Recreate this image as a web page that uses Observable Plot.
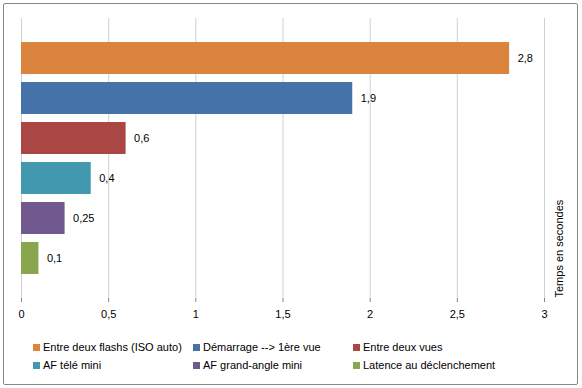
<!DOCTYPE html>
<html><head><meta charset="utf-8">
<script src="https://cdn.jsdelivr.net/npm/d3@7"></script>
<script src="https://cdn.jsdelivr.net/npm/@observablehq/plot@0.6"></script>
<style>
body{margin:0;background:#fff;font-family:"Liberation Sans",Arial,sans-serif;}
#wrap{position:relative;width:582px;height:388px;}
#border{position:absolute;left:3px;top:3px;width:573px;height:380px;border:1px solid #888;border-radius:2px;box-sizing:content-box;}
#chart{position:absolute;left:0;top:0;}
#legend{position:absolute;left:0;top:340px;width:582px;font-size:11px;color:#000;}
.item{position:absolute;white-space:nowrap;line-height:14px;}
.sw{display:inline-block;width:7px;height:7px;margin-right:3px;vertical-align:0px;}
</style></head>
<body><div id="wrap"><div id="border"></div><div id="chart"></div><div id="legend"></div></div>
<script>
const categories = ["Entre deux flashs (ISO auto)","Démarrage --> 1ère vue","Entre deux vues","AF télé mini","AF grand-angle mini","Latence au déclenchement"];
const values = [2.8, 1.9, 0.6, 0.4, 0.25, 0.1];
const colors = ["#DB843D","#4572A7","#AA4643","#4198AF","#71588F","#89A54E"];
const xTicks = [0, 0.5, 1, 1.5, 2, 2.5, 3];
const axisTitle = "Temps en secondes";

const data = categories.map((c, i) => ({cat: c, value: values[i]}));
const fmt = v => String(v).replace(".", ",");

const plot = Plot.plot({
  width: 582, height: 330,
  marginLeft: 21, marginRight: 38, marginTop: 18, marginBottom: 32,
  style: {fontFamily: '"Liberation Sans", Arial, sans-serif', fontSize: "11px", color: "#000", background: "transparent"},
  x: {domain: [0, 3]},
  y: {domain: categories, paddingInner: 0.2, paddingOuter: 0.1, insetTop: 20, insetBottom: 20},
  color: {domain: categories, range: colors},
  marks: [
    Plot.ruleX(xTicks, {stroke: "#d0d0d0", strokeWidth: 1}),
    Plot.barX(data, {x: "value", y: "cat", fill: "cat"}),
    Plot.text(data, {x: "value", y: "cat", text: d => fmt(d.value), textAnchor: "start", dx: 8, fill: "#000"}),
    Plot.axisX({ticks: xTicks, tickFormat: fmt, tickSize: 4, tickPadding: 8, stroke: "#868686", label: null, fill: "#000"}),
    Plot.ruleY([0], {frameAnchor: "bottom", stroke: "#868686"}),
    Plot.axisY({ticks: [], label: null}),
    Plot.text([axisTitle], {frameAnchor: "bottom-right", text: d => d, rotate: -90, textAnchor: "start", dx: 18, dy: -1, fill: "#000"})
  ]
});
document.getElementById("chart").appendChild(plot);

const legend = document.getElementById("legend");
const colX = [33, 193, 353];
categories.forEach((c, i) => {
  const el = document.createElement("div");
  el.className = "item";
  el.style.left = colX[i % 3] + "px";
  el.style.top = (Math.floor(i / 3) * 18) + "px";
  const sw = document.createElement("span");
  sw.className = "sw";
  sw.style.background = colors[i];
  el.appendChild(sw);
  el.appendChild(document.createTextNode(c));
  legend.appendChild(el);
});
</script></body></html>
